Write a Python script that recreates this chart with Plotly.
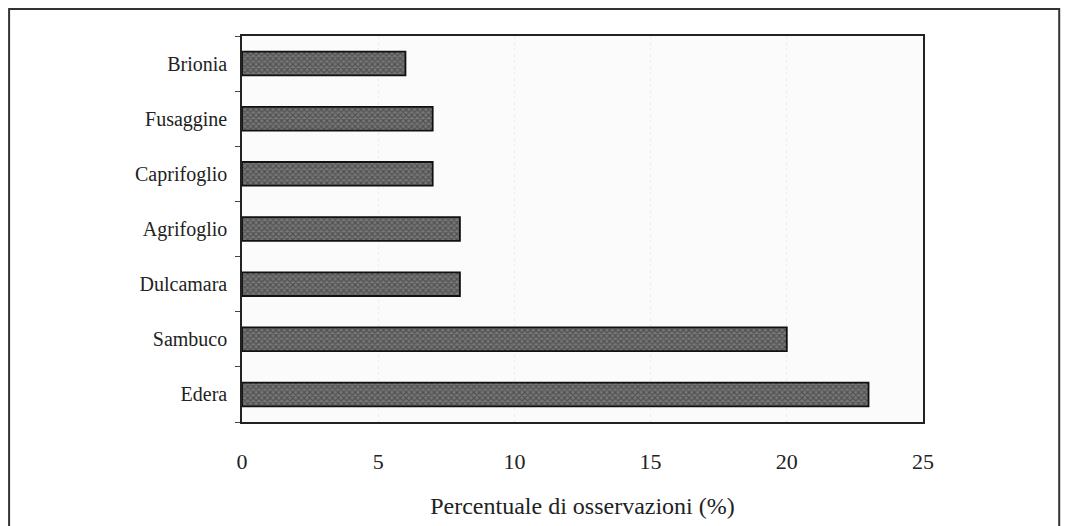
import plotly.graph_objects as go

categories = ["Edera", "Sambuco", "Dulcamara", "Agrifoglio", "Caprifoglio", "Fusaggine", "Brionia"]
values = [23, 20, 8, 8, 7, 7, 6]
x_ticks = [0, 5, 10, 15, 20, 25]
x_title = "Percentuale di osservazioni (%)"

fig = go.Figure()
fig.add_trace(go.Bar(
    y=categories, x=values, orientation="h", width=0.43,
    marker=dict(color="#666666",
                line=dict(color="#111111", width=1.8),
                pattern=dict(shape="x", fgcolor="#2a2a2a", bgcolor="#777777", size=4, solidity=0.5)),
    hoverinfo="skip",
))

fig.update_layout(
    width=1075, height=526,
    margin=dict(l=234, r=160, t=28, b=112),
    paper_bgcolor="white", plot_bgcolor="#fbfbfb",
    font=dict(family="Liberation Serif", color="#222222"),
    showlegend=False,
    xaxis=dict(range=[0, 25], tickvals=x_ticks, ticks="", showgrid=True,
               gridcolor="#eeeeee", gridwidth=1, griddash="dot",
               tickfont=dict(size=22), showline=True, linecolor="#222", linewidth=1.5,
               mirror=True, zeroline=False, ticklabelstandoff=19,
               title=dict(text=x_title, font=dict(size=24), standoff=24)),
    yaxis=dict(range=[-0.5, 6.5], ticks="outside", tickson="boundaries", ticklen=5,
               tickcolor="#444", showgrid=False, tickfont=dict(size=20),
               showline=True, linecolor="#222", linewidth=1.5, mirror=True,
               ticklabelstandoff=9),
    shapes=[dict(type="rect", xref="paper", yref="paper",
                 x0=-0.342, x1=1.2, y0=-0.4, y1=1.07,
                 line=dict(color="#333", width=2), fillcolor="rgba(0,0,0,0)", layer="below")],
)

fig.write_html("out.html")
